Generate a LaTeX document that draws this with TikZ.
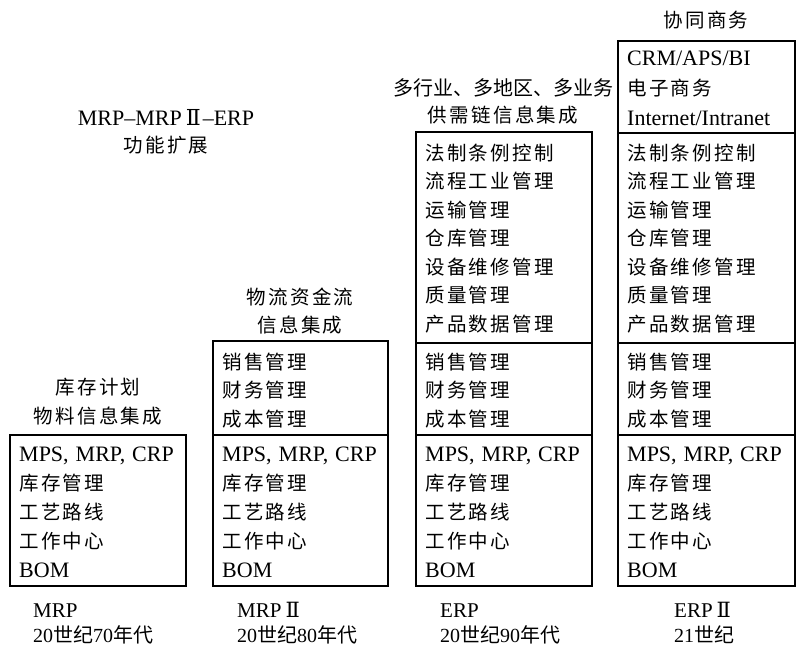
\documentclass[tikz,border=0pt]{standalone}
\usepackage{fontspec}
\setmainfont{Liberation Serif}
\newfontfamily\cjk[LetterSpace=12]{Noto Sans CJK SC}
\newfontfamily\cjkt{Noto Sans CJK SC}
\newfontfamily\romfont{DejaVu Serif}
\newcommand\two{{\romfont\hspace{4pt}Ⅱ\hspace{2pt}}}
\newcommand\boxrows[5]{% prefix, x, first baseline, pitch, list style/text
  \foreach \s/\t [count=\i from 0] in {#5} {\node[\s] (#1\i) at (#2, #3+\i*#4) {\t};}}
\begin{document}
\begin{tikzpicture}[x=1pt,y=-1pt,
  box/.style={draw, line width=1.3pt},
  en/.style={anchor=base west, inner sep=0pt, font=\fontsize{22}{22}\selectfont},
  zh/.style={anchor=base west, inner sep=0pt, font=\fontsize{19.5}{19.5}\selectfont\cjk},
  labzh/.style={anchor=base, inner sep=0pt, font=\fontsize{19.5}{19.5}\selectfont\cjk},
  labzht/.style={anchor=base, inner sep=0pt, font=\fontsize{20}{20}\selectfont\cjkt},
  laben/.style={anchor=base, inner sep=0pt, font=\fontsize{22}{22}\selectfont},
  era/.style={anchor=base west, inner sep=0pt, font=\fontsize{21}{21}\selectfont},
  dec/.style={anchor=base west, inner sep=0pt, font=\fontsize{20}{20}\selectfont}]
\useasboundingbox (0,0) rectangle (796,646);

% ---- boxes
\draw[box] (10,435) rectangle (186,586);
\draw[box] (213,341) rectangle (388,586);
\draw[box] (213,435) -- (388,435);
\draw[box] (416,132) rectangle (592,586);
\draw[box] (416,343) -- (592,343);
\draw[box] (416,435) -- (592,435);
\draw[box] (618,41) rectangle (795,586);
\draw[box] (618,133) -- (795,133);
\draw[box] (618,343) -- (795,343);
\draw[box] (618,435) -- (795,435);

% ---- base section (all four boxes)
\foreach \bx/\nm in {19/a,222/b,425/c,627/d}{
  \boxrows{\nm base}{\bx}{461}{29}{en/{MPS,\hspace{7pt}MRP,\hspace{7pt}CRP},zh/库存管理,zh/工艺路线,zh/工作中心,en/BOM}
}
% ---- middle section (boxes 2-4)
\foreach \bx/\nm in {222/b,425/c,627/d}{
  \boxrows{\nm mid}{\bx}{369}{28.5}{zh/销售管理,zh/财务管理,zh/成本管理}
}
% ---- upper section (boxes 3-4)
\foreach \bx/\nm in {425/c,627/d}{
  \boxrows{\nm up}{\bx}{160}{28.5}{zh/法制条例控制,zh/流程工业管理,zh/运输管理,zh/仓库管理,zh/设备维修管理,zh/质量管理,zh/产品数据管理}
}
% ---- top section (box 4)
\boxrows{dtop}{627}{65.5}{30}{en/{CRM/APS/BI},zh/电子商务,en/{Internet/Intranet}}

% ---- labels above boxes
\node[labzh] (l4) at (706,27) {协同商务};
\node[labzht] (l3a) at (503,95) {多行业、多地区、多业务};
\node[labzh] (l3b) at (503,122) {供需链信息集成};
\node[labzh] (l2a) at (300,304) {物流资金流};
\node[labzh] (l2b) at (300,332) {信息集成};
\node[labzh] (l1a) at (98,394) {库存计划};
\node[labzh] (l1b) at (98,423) {物料信息集成};
\node[laben] (t1) at (166,125) {MRP–MRP\two–ERP};
\node[labzh] (t2) at (166,152) {功能扩展};

% ---- labels below boxes
\node[era] (e1) at (33,617) {MRP};
\node[dec] (d1) at (33,642) {20{\cjkt 世纪}70{\cjkt 年代}};
\node[era] (e2) at (237,617) {MRP\two};
\node[dec] (d2) at (237,642) {20{\cjkt 世纪}80{\cjkt 年代}};
\node[era] (e3) at (440,617) {ERP};
\node[dec] (d3) at (440,642) {20{\cjkt 世纪}90{\cjkt 年代}};
\node[era] (e4) at (674,617) {ERP\two};
\node[dec] (d4) at (674,642) {21{\cjkt 世纪}};
\end{tikzpicture}
\end{document}
